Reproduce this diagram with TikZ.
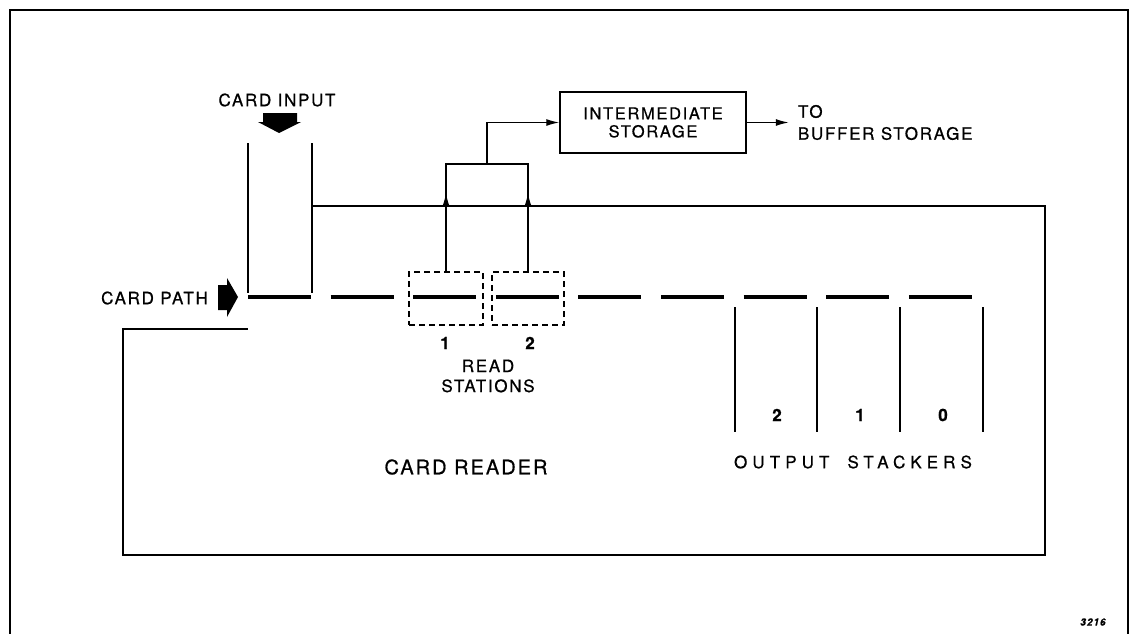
\documentclass[tikz,border=0pt]{standalone}
\usepackage{fontspec}
\setmainfont{TeX Gyre Heros}[LetterSpace=10, FakeBold=0.7]
\usetikzlibrary{positioning,arrows.meta,calc}
\tikzset{
  frame/.style={line width=1.8pt},
  chute/.style={line width=2.4pt},
  cardseg/.style={line width=3.8pt},
  wire/.style={line width=1.3pt},
  flow/.style={wire, -{Latex[length=13pt,width=7pt]}},
  station/.style={draw, line width=1.2pt, dash pattern=on 6pt off 4pt,
                  minimum width=74pt, minimum height=53pt, inner sep=0pt},
  store/.style={draw, line width=1.5pt, minimum width=186pt, minimum height=61pt,
                align=center, inner sep=0pt, font=\fontsize{16.5}{18}\selectfont},
  lbl/.style={font=\fontsize{17}{20}\selectfont, inner sep=0pt},
  biglbl/.style={font=\fontsize{20}{24}\selectfont, inner sep=0pt},
  numlbl/.style={font=\fontsize{17}{20}\selectfont\bfseries, inner sep=0pt},
  blockarrow/.style={fill=black, draw=none}
}
\begin{document}
\begin{tikzpicture}[x=1pt, y=-1pt]
  \useasboundingbox (0,0) rectangle (1130,634);
  % outer frame, open at the bottom
  \draw[frame] (10,634) -- (10,10) -- (1128,10) -- (1128,634);
  % card reader housing
  \draw[frame] (312,206) -- (1045,206) -- (1045,555) -- (123,555) -- (123,329) -- (248,329);
  \draw[chute] (248,143) -- (248,293);
  \draw[chute] (312,143) -- (312,293);
  % card path
  \foreach \k in {0,...,8}
    \draw[cardseg] ({248+82.6*\k},297) -- ({311+82.6*\k},297);
  % input and path arrows
  \node[lbl] (cardin) at (277,100) {CARD INPUT};
  \fill[blockarrow] (263,113) -- (297,113) -- (297,122) -- (301,122) -- (279,133)
    -- (258,122) -- (263,122) -- cycle;
  \node[lbl, anchor=east] (cardpath) at (208,298) {CARD PATH};
  \fill[blockarrow] (218,285) -- (227,285) -- (227,278) -- (238,297) -- (227,317)
    -- (227,310) -- (218,310) -- cycle;
  % read stations
  \node[station] (rs1) at (446,298.5) {};
  \node[station, minimum width=72pt] (rs2) at (528,298.5) {};
  \node[numlbl] (n1) at (445,343) {1};
  \node[numlbl] (n2) at (530,343) {2};
  \node[lbl, align=center, font=\fontsize{17}{20}\selectfont] (readst) at (488,376) {READ\\STATIONS};
  % storage
  \node[store] (inter) at (653,122.5) {INTERMEDIATE\\STORAGE};
  \node[lbl, align=left, font=\fontsize{17}{22}\selectfont, right=51pt of inter] (tobuf) {TO\\BUFFER STORAGE};
  \coordinate (j1) at (446,164);
  \coordinate (j2) at (528,164);
  \coordinate (jm) at (487,164);
  \draw[wire] (rs1.north) -- (j1) -- (j2) -- (rs2.north);
  \draw[flow] (rs1.north) -- ($(rs1.north)!.73!(j1)$);
  \draw[flow] (rs2.north) -- ($(rs2.north)!.73!(j2)$);
  \draw[flow] (jm) |- (inter.west);
  \draw[flow, shorten >=9pt] (inter) -- (tobuf);
  % output stackers
  \foreach \x in {735,817,900,983}
    \draw[wire] (\x,307) -- (\x,432);
  \foreach \n/\x in {2/777,1/860,0/943}
    \node[numlbl] (st\n) at (\x,415) {\n};
  \node[biglbl] (reader) at (466,467) {CARD READER};
  \node[lbl, font=\fontsize{17}{20}\selectfont\addfontfeature{LetterSpace=30}] (stackers) at (853,462) {OUTPUT\hspace{18pt}STACKERS};
  \node[font=\fontsize{10}{12}\selectfont\bfseries\itshape, inner sep=0pt] (figno) at (1093,622) {3216};
\end{tikzpicture}
\end{document}
